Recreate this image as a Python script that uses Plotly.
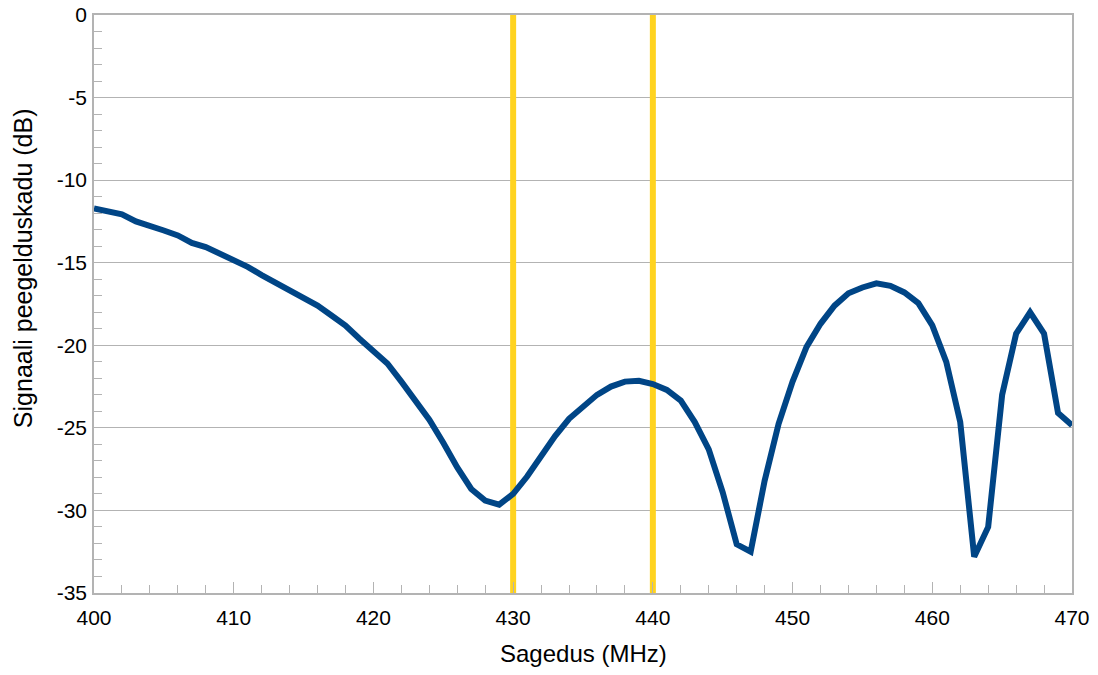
import plotly.graph_objects as go

# Frequency sweep (MHz) and measured return loss (dB)
freq_mhz = list(range(400, 471))
return_loss_db = [
    -11.72, -11.88, -12.07, -12.50, -12.75, -13.05, -13.35, -13.80, -14.05, -14.45,
    -14.90, -15.25, -15.75, -16.20, -16.60, -17.10, -17.60, -18.20, -18.80, -19.60,
    -20.30, -21.10, -22.20, -23.30, -24.50, -25.90, -27.40, -28.70, -29.40, -29.65,
    -29.00, -27.95, -26.70, -25.50, -24.45, -23.70, -23.00, -22.50, -22.20, -22.15,
    -22.35, -22.70, -23.35, -24.65, -26.30, -28.90, -32.05, -32.50, -28.20, -24.75,
    -22.20, -20.10, -18.70, -17.60, -16.85, -16.50, -16.25, -16.40, -16.80, -17.45,
    -18.80, -21.00, -24.65, -32.80, -31.00, -23.00, -19.30, -18.00, -19.30, -24.10,
    -24.85,
]

# Band edges marked with vertical lines
band_edges_mhz = [430, 440]

# Axis ticks (hyphen-minus labels, as in the original spreadsheet chart)
x_tick_vals = [400, 410, 420, 430, 440, 450, 460, 470]
x_tick_labels = ["400", "410", "420", "430", "440", "450", "460", "470"]
y_tick_vals = [0, -5, -10, -15, -20, -25, -30, -35]
y_tick_labels = ["0", "-5", "-10", "-15", "-20", "-25", "-30", "-35"]

x_title = "Sagedus (MHz)"
y_title = "Signaali peegelduskadu (dB)"

y_range = [-35, 0]
x_range = [400, 470]

BLUE = "#004586"
YELLOW = "#ffd320"
GRID = "#b3b3b3"
FONT = "Liberation Sans, Arial, sans-serif"

fig = go.Figure()

for edge in band_edges_mhz:
    fig.add_trace(go.Scatter(
        x=[edge, edge], y=y_range, mode="lines",
        line=dict(color=YELLOW, width=6),
        hoverinfo="skip", showlegend=False,
    ))

fig.add_trace(go.Scatter(
    x=freq_mhz, y=return_loss_db, mode="lines",
    line=dict(color=BLUE, width=6),
    showlegend=False,
))

fig.update_layout(
    width=1098, height=675,
    margin=dict(l=94, r=26, t=15, b=82),
    paper_bgcolor="white", plot_bgcolor="white",
    font=dict(family=FONT, size=21, color="black"),
)

fig.update_xaxes(
    range=x_range, tickvals=x_tick_vals, ticktext=x_tick_labels,
    showgrid=False, zeroline=False, automargin=False,
    showline=True, linecolor=GRID, linewidth=1.5, mirror=True,
    ticks="inside", ticklen=11, tickcolor=GRID,
    minor=dict(dtick=2, tick0=400, ticks="inside", ticklen=8, tickcolor=GRID, showgrid=False),
    tickfont=dict(size=21), ticklabelstandoff=5,
)

fig.update_yaxes(
    range=y_range, tickvals=y_tick_vals, ticktext=y_tick_labels,
    showgrid=True, gridcolor=GRID, gridwidth=1, zeroline=False, automargin=False,
    showline=True, linecolor=GRID, linewidth=1.5, mirror=True,
    ticks="inside", ticklen=8, tickcolor=GRID,
    minor=dict(dtick=1, ticks="inside", ticklen=8, tickcolor=GRID, showgrid=False),
    tickfont=dict(size=21), ticklabelstandoff=1,
)

# Axis titles placed as paper-anchored annotations
fig.add_annotation(
    text=x_title, xref="paper", yref="paper", x=0.5, y=-0.104,
    xanchor="center", yanchor="middle", showarrow=False,
    font=dict(family=FONT, size=24, color="black"),
)
fig.add_annotation(
    text=y_title, xref="paper", yref="paper", x=-0.0726, y=0.562,
    xanchor="center", yanchor="middle", textangle=-90, showarrow=False,
    font=dict(family=FONT, size=25, color="black"),
)

fig.write_html("out.html")
